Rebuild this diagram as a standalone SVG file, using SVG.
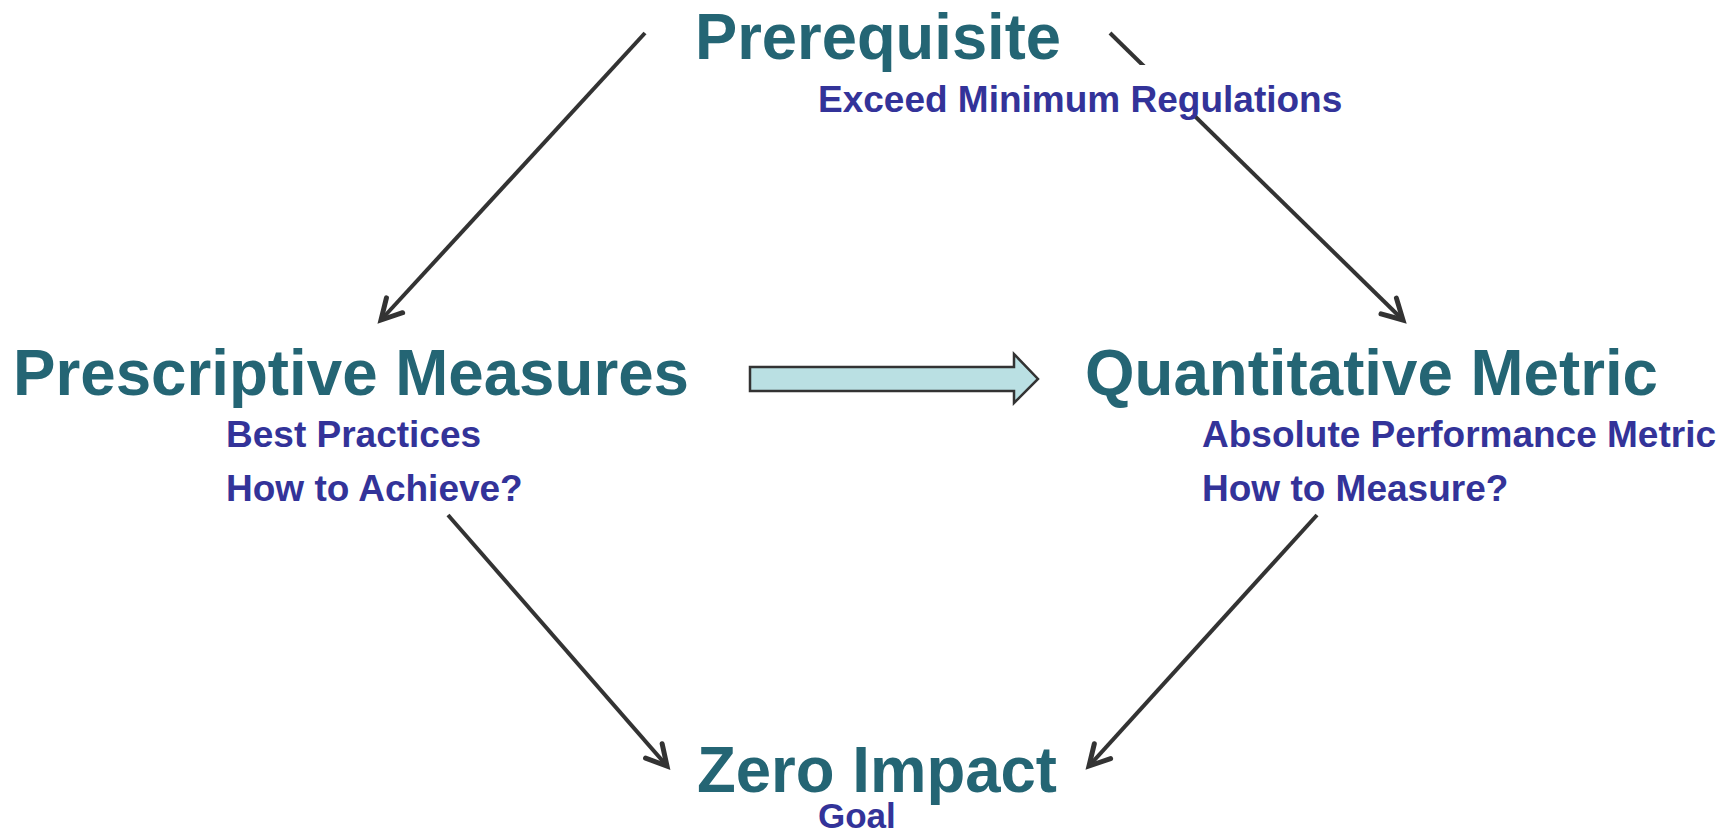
<svg xmlns="http://www.w3.org/2000/svg" width="1736" height="835" viewBox="0 0 1736 835">
<style>
.title{font-family:"Liberation Sans",Arial,sans-serif;font-weight:bold;font-size:64px;fill:#246574}
.sub{font-family:"Liberation Sans",Arial,sans-serif;font-weight:bold;font-size:37px;fill:#333399}
.conn{stroke:#333333;stroke-width:4;fill:none;marker-end:url(#ah)}
</style>
<defs>
<marker id="ah" viewBox="-26 -16 30 32" refX="0" refY="0" markerWidth="30" markerHeight="32" markerUnits="userSpaceOnUse" orient="auto" overflow="visible">
<path d="M-20,-11 L0,0 L-20,11" fill="none" stroke="#333333" stroke-width="5" stroke-linecap="round" stroke-linejoin="miter"/>
</marker>
</defs>
<rect width="1736" height="835" fill="#ffffff"/>
<g id="connectors">
<line class="conn" x1="645" y1="33" x2="381" y2="320"/>
<line class="conn" x1="1110" y1="33" x2="1403" y2="320"/>
<line class="conn" x1="448" y1="515" x2="667" y2="766"/>
<line class="conn" x1="1317" y1="515" x2="1089" y2="766"/>
<polygon id="block-arrow" points="750,367 1014,367 1014,354 1038,379 1014,403 1014,391 750,391" fill="#bae0e3" stroke="#333333" stroke-width="2.5"/>
</g>
<g id="prerequisite">
<rect x="812" y="65" width="540" height="50" fill="#ffffff"/>
<text class="title" x="695" y="59" textLength="366" lengthAdjust="spacingAndGlyphs">Prerequisite</text>
<text class="sub" x="818" y="112">Exceed Minimum Regulations</text>
</g>
<g id="prescriptive">
<text class="title" x="13" y="395" textLength="676" lengthAdjust="spacingAndGlyphs">Prescriptive Measures</text>
<text class="sub" x="226" y="447">Best Practices</text>
<text class="sub" x="226" y="501">How to Achieve?</text>
</g>
<g id="quantitative">
<text class="title" x="1085" y="395" textLength="573" lengthAdjust="spacingAndGlyphs">Quantitative Metric</text>
<text class="sub" x="1202" y="447">Absolute Performance Metric</text>
<text class="sub" x="1202" y="501">How to Measure?</text>
</g>
<g id="zero-impact">
<text class="title" x="697" y="792" textLength="360" lengthAdjust="spacingAndGlyphs">Zero Impact</text>
<text class="sub" x="818" y="828" style="font-size:35px">Goal</text>
</g>
</svg>
